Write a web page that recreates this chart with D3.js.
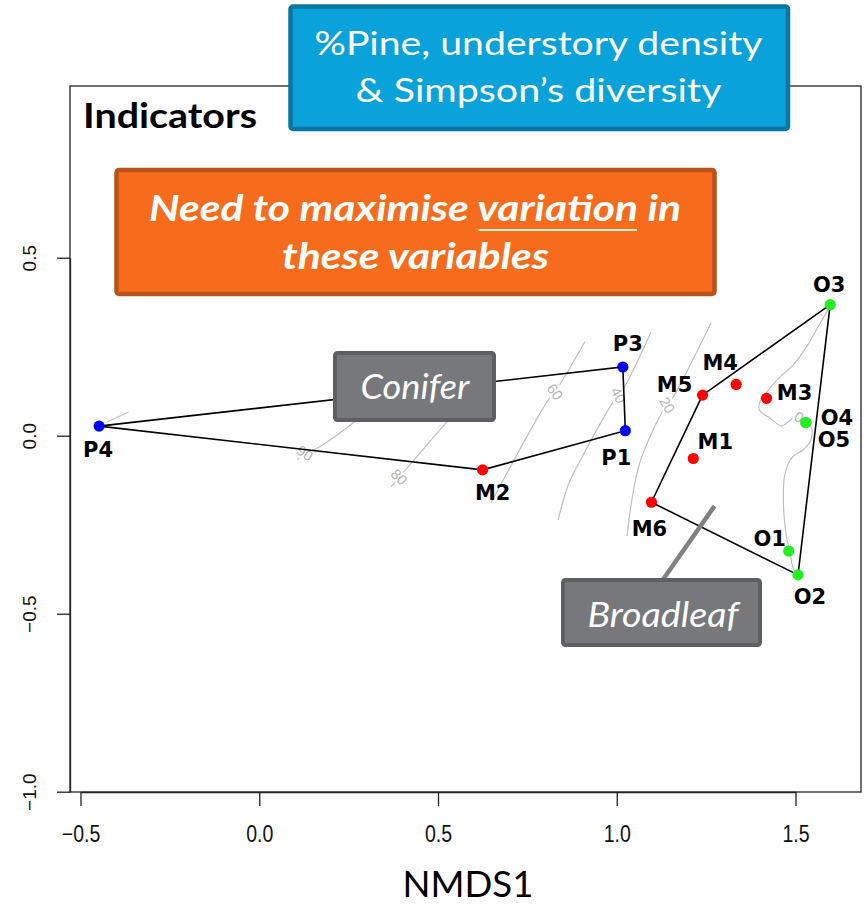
<!DOCTYPE html>
<html>
<head>
<meta charset="utf-8">
<script src="https://cdn.jsdelivr.net/npm/d3@7"></script>
<style>
  body { margin: 0; background: #fff; }
  svg { display: block; }
  .y-tick-label { font-family: 'Liberation Sans', Arial, sans-serif; font-size: 19px; }
</style>
</head>
<body>
<svg id="chart" width="864" height="905"></svg>
<script>
// ---- Site scores on NMDS axes 1 and 2 ----
const siteNames = ["P1", "P3", "P4", "M1", "M2", "M3", "M4", "M5", "M6", "O1", "O2", "O3", "O4", "O5"];
const siteNmds1 = [1.024, 1.017, -0.448, 1.214, 0.625, 1.419, 1.334, 1.240, 1.097, 1.481, 1.507, 1.597, 1.529, 1.529];
const siteNmds2 = [0.014, 0.193, 0.027, -0.064, -0.096, 0.105, 0.144, 0.114, -0.187, -0.324, -0.391, 0.368, 0.037, 0.037];
const siteGroup = ["Pine", "Pine", "Pine", "Mixed", "Mixed", "Mixed", "Mixed", "Mixed", "Mixed", "Oak", "Oak", "Oak", "Oak", "Oak"];

// Hull outlines (site order around each polygon)
const coniferHull = ["P4", "P3", "P1", "M2"];
const broadleafHull = ["M5", "O3", "O2", "M6"];

// Fitted surface contours (%Pine), [NMDS1, NMDS2] vertices
const contourLevels = [90, 80, 60, 40, 20, 0];
const contour90a = [[-0.425, 0.039], [-0.366, 0.066]];
const contour90 = [[0.106, -0.068], [0.128, -0.049], [0.162, -0.035], [0.273, 0.044], [0.352, 0.114]];
const contour80 = [[0.369, -0.144], [0.391, -0.116], [0.413, -0.091], [0.525, 0.039], [0.590, 0.114]];
const contour60 = [[0.648, -0.189], [0.805, 0.095], [0.827, 0.123], [0.846, 0.152], [0.911, 0.264]];
const contour40 = [[0.836, -0.237], [0.864, -0.139], [0.903, -0.060], [0.990, 0.095], [1.004, 0.114], [1.020, 0.134], [1.096, 0.291]];
const contour20 = [[1.029, -0.282], [1.040, -0.195], [1.065, -0.074], [1.124, 0.061], [1.141, 0.086], [1.160, 0.112], [1.264, 0.317]];
const contour0 = [[1.599, 0.367], [1.569, 0.316], [1.531, 0.250], [1.494, 0.199], [1.457, 0.166], [1.424, 0.128],
  [1.401, 0.096], [1.399, 0.072], [1.429, 0.049], [1.461, 0.027], [1.475, 0.035], [1.499, 0.053], [1.521, 0.053],
  [1.545, 0.022], [1.543, -0.012], [1.521, -0.040], [1.494, -0.057], [1.480, -0.078], [1.469, -0.115],
  [1.466, -0.181], [1.469, -0.237], [1.475, -0.284], [1.485, -0.330], [1.492, -0.368], [1.501, -0.387]];
const contourLines = [contour90, contour80, contour60, contour40, contour20, contour0];
const contourLabelAt = [[0.128, -0.049], [0.391, -0.116], [0.827, 0.123], [1.004, 0.114], [1.141, 0.086], [1.510, 0.052]];

// Axis ticks
const xTicks = [-0.5, 0.0, 0.5, 1.0, 1.5];
const yTicks = [-1.0, -0.5, 0.0, 0.5];

// ---- Layout ----
const svg = d3.select("#chart");
const frame = { left: 70, right: 861, top: 86, bottom: 792 };
const x = d3.scaleLinear().domain([-0.5, 1.5]).range([80.5, 795.5]);
const y = d3.scaleLinear().domain([-1.0, 0.5]).range([791.7, 257.7]);
const groupColour = { Pine: "#0000FF", Mixed: "#FF0000", Oak: "#22EE22" };

const sites = siteNames.map((name, i) => ({ name, x: siteNmds1[i], y: siteNmds2[i], group: siteGroup[i] }));
const byName = Object.fromEntries(sites.map(s => [s.name, s]));

// Plot frame
svg.append("rect")
  .attr("x", frame.left).attr("y", frame.top)
  .attr("width", frame.right - frame.left).attr("height", frame.bottom - frame.top)
  .attr("fill", "none").attr("stroke", "#222").attr("stroke-width", 1.3);

// Axes
const fmt = d3.format(".1f");
const xAxis = svg.append("g")
  .attr("transform", `translate(0,${frame.bottom})`)
  .call(d3.axisBottom(x).tickValues(xTicks).tickSize(14).tickSizeOuter(0).tickFormat(fmt));
xAxis.attr("font-size", null).attr("font-family", null);
xAxis.select(".domain").attr("stroke", "#222").attr("stroke-width", 1.3);
xAxis.selectAll(".tick line").attr("stroke", "#222").attr("stroke-width", 1.3);
xAxis.selectAll(".tick text")
  .attr("y", 50).attr("dy", 0)
  .attr("transform", "scale(0.85,1)")
  .attr("fill", "#111")
  .attr("font-family", "'Liberation Sans', Arial, sans-serif")
  .attr("font-size", 23);

const yAxis = svg.append("g")
  .attr("transform", `translate(${frame.left},0)`)
  .call(d3.axisLeft(y).tickValues(yTicks).tickSize(13).tickSizeOuter(0).tickFormat(fmt));
yAxis.attr("font-size", null).attr("font-family", null);
yAxis.select(".domain").attr("stroke", "#222").attr("stroke-width", 1.3);
yAxis.selectAll(".tick line").attr("stroke", "#222").attr("stroke-width", 1.3);
yAxis.selectAll(".tick text")
  .attr("class", "y-tick-label")
  .attr("transform", "rotate(-90)")
  .attr("x", 0).attr("y", -34).attr("dy", 0)
  .attr("text-anchor", "middle")
  .attr("fill", "#111");

// Contours of the fitted surface
const line = d3.line().x(d => x(d[0])).y(d => y(d[1])).curve(d3.curveCatmullRom.alpha(0.5));
const contourG = svg.append("g");
contourG.selectAll("path")
  .data([contour90a, ...contourLines])
  .join("path")
  .attr("d", line)
  .attr("fill", "none")
  .attr("stroke", "#BEBEBE")
  .attr("stroke-width", 1.2);

const labelAngles = [35, 45, 55, 62, 60, 30];
contourG.selectAll("text")
  .data(contourLevels)
  .join("text")
  .attr("transform", (d, i) => `translate(${x(contourLabelAt[i][0])},${y(contourLabelAt[i][1])}) rotate(${labelAngles[i]})`)
  .attr("text-anchor", "middle")
  .attr("dy", "0.35em")
  .attr("fill", "#B4B4B4")
  .attr("stroke", "#fff")
  .attr("stroke-width", 5)
  .style("paint-order", "stroke")
  .style("font-family", "'Liberation Sans', Arial, sans-serif")
  .style("font-size", "14.5px")
  .text(d => d);

// Group hulls
const hullLine = d3.line().x(d => x(d.x)).y(d => y(d.y)).curve(d3.curveLinearClosed);
svg.append("g").selectAll("path")
  .data([coniferHull, broadleafHull])
  .join("path")
  .attr("d", names => hullLine(names.map(n => byName[n])))
  .attr("fill", "none")
  .attr("stroke", "#000")
  .attr("stroke-width", 1.6);

// Sites
svg.append("g").selectAll("circle")
  .data(sites)
  .join("circle")
  .attr("cx", d => x(d.x))
  .attr("cy", d => y(d.y))
  .attr("r", 5.6)
  .attr("fill", d => groupColour[d.group]);

// Site labels, nudged clear of the points
const nudge = {
  P1: [-9, 27], P3: [5, -24], P4: [-1, 23],
  M1: [22, -17], M2: [10, 23], M3: [28, -6], M4: [-16, -22], M5: [-28, -11], M6: [-2, 26],
  O1: [-19, -13], O2: [12, 22], O3: [-1, -20], O4: [31, -5], O5: [28, 17]
};
svg.append("g").selectAll("text")
  .data(sites)
  .join("text")
  .attr("x", d => x(d.x) + nudge[d.name][0])
  .attr("y", d => y(d.y) + nudge[d.name][1])
  .attr("dy", "0.36em")
  .attr("text-anchor", "middle")
  .attr("fill", "#000")
  .style("font-family", "'DejaVu Sans', sans-serif")
  .style("font-weight", "bold")
  .style("font-size", "21px")
  .text(d => d.name);

// ---- Annotations ----
const calloutFont = "Lato, 'Open Sans', sans-serif";

// Text line centred at (cx, baseline), squeezed/stretched to a given width
function fittedText(parent, str, cx, baseline, width, opts) {
  const g = parent.append("g");
  const t = g.append("text")
    .attr("x", 0).attr("y", 0)
    .attr("text-anchor", "middle")
    .attr("fill", opts.fill || "#fff")
    .style("font-family", calloutFont)
    .style("font-size", opts.size + "px")
    .style("font-weight", opts.weight || "normal")
    .style("font-style", opts.style || "normal")
    .text(str);
  const natural = t.node().getComputedTextLength();
  const sx = width / natural;
  g.attr("transform", `translate(${cx},${baseline}) scale(${sx},1)`);
  return { g, t, natural };
}

function calloutBox(x0, y0, x1, y1, fill, edge, sw) {
  svg.append("rect")
    .attr("x", x0).attr("y", y0)
    .attr("width", x1 - x0).attr("height", y1 - y0)
    .attr("rx", 2.5)
    .attr("fill", fill).attr("stroke", edge).attr("stroke-width", sw);
}

// Panel title
fittedText(svg, "Indicators", 170, 128, 174, { size: 35, weight: "bold", fill: "#000" });

// Variables box
calloutBox(290.5, 6.5, 788, 129, "#0AA2DA", "#0A77A2", 4.5);
fittedText(svg, "%Pine, understory density", 538.5, 55, 448, { size: 33 });
fittedText(svg, "& Simpson\u2019s diversity", 538.5, 102, 366, { size: 33 });

// Goal box
calloutBox(116.5, 170, 714.5, 294, "#F76C1C", "#B8521A", 4.5);
const goal = fittedText(svg, "Need to maximise variation in", 415, 221, 532, { size: 36, weight: "bold", style: "italic" });
{
  const node = goal.t.node();
  const full = "Need to maximise variation in";
  const i0 = full.indexOf("variation");
  const start = -goal.natural / 2 + node.getSubStringLength(0, i0);
  const len = node.getSubStringLength(i0, "variation".length);
  goal.g.append("line")
    .attr("x1", start + 1).attr("x2", start + len - 1)
    .attr("y1", 9).attr("y2", 9)
    .attr("stroke", "#FFF6D8").attr("stroke-width", 2.2);
}
fittedText(svg, "these variables", 415.5, 269, 267, { size: 36, weight: "bold", style: "italic" });

// Group name boxes
calloutBox(335, 353, 494, 420, "#77787B", "#5E5F62", 4);
fittedText(svg, "Conifer", 415, 399, 109, { size: 34, style: "italic" });

svg.append("line")
  .attr("x1", 662).attr("y1", 581).attr("x2", 714.5).attr("y2", 506)
  .attr("stroke", "#808080").attr("stroke-width", 4.5);
calloutBox(563, 580, 760, 645, "#77787B", "#5E5F62", 4);
fittedText(svg, "Broadleaf", 663, 627, 151, { size: 34, style: "italic" });

// Axis title
fittedText(svg, "NMDS1", 468, 897, 131, { size: 37, fill: "#000" });
</script>
</body>
</html>
